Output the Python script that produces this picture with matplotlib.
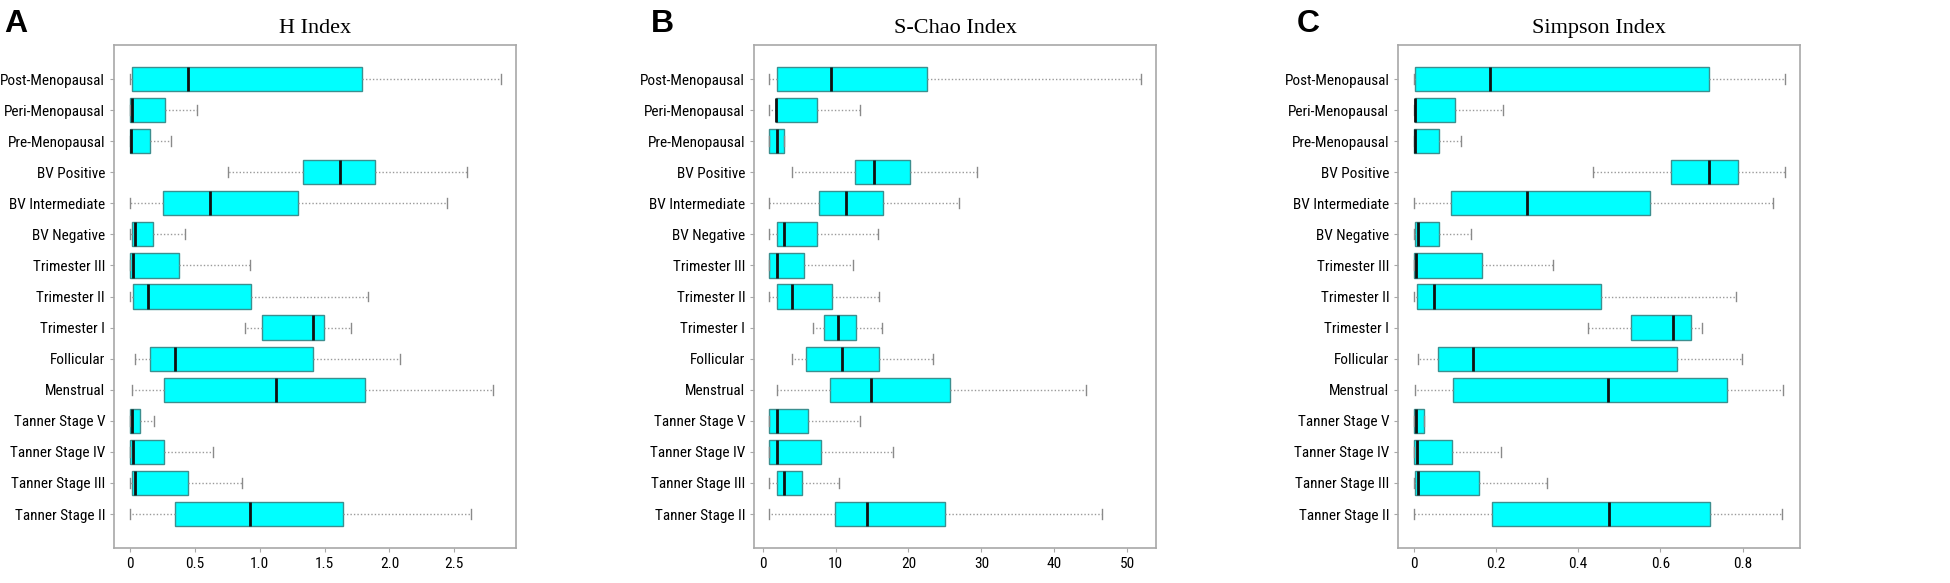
import matplotlib.pyplot as plt

groups = ['Post-Menopausal', 'Peri-Menopausal', 'Pre-Menopausal', 'BV Positive',
          'BV Intermediate', 'BV Negative', 'Trimester III', 'Trimester II',
          'Trimester I', 'Follicular', 'Menstrual', 'Tanner Stage V',
          'Tanner Stage IV', 'Tanner Stage III', 'Tanner Stage II']

# H index: whisker low, q1, median, q3, whisker high (top to bottom)
h_low = [0, 0, 0, 0.755, 0, 0, 0, 0, 0.885, 0.038, 0.013, 0, 0, 0, 0]
h_q1 = [0.018, 0, 0, 1.33, 0.258, 0.013, 0, 0.026, 1.02, 0.155, 0.265, 0, 0, 0.013, 0.35]
h_med = [0.446, 0.013, 0.01, 1.617, 0.615, 0.036, 0.026, 0.14, 1.408, 0.35, 1.122, 0.018, 0.026, 0.036, 0.928]
h_q3 = [1.785, 0.273, 0.153, 1.89, 1.298, 0.181, 0.375, 0.936, 1.497, 1.408, 1.808, 0.079, 0.265, 0.449, 1.64]
h_high = [2.86, 0.518, 0.316, 2.6, 2.446, 0.423, 0.923, 1.831, 1.704, 2.08, 2.8, 0.186, 0.638, 0.86, 2.63]

# S-Chao index
s_low = [0.92, 0.92, 0.92, 3.96, 0.92, 0.92, 0.92, 0.92, 6.9, 3.96, 1.94, 0.92, 0.92, 0.92, 0.92]
s_q1 = [1.94, 1.9, 0.92, 12.6, 7.7, 1.94, 0.92, 1.94, 8.43, 5.94, 9.17, 0.92, 0.92, 1.94, 9.95]
s_med = [9.35, 1.9, 1.94, 15.25, 11.4, 2.95, 1.94, 3.96, 10.3, 10.9, 14.9, 1.94, 1.94, 2.95, 14.3]
s_q3 = [22.5, 7.47, 2.95, 20.2, 16.45, 7.47, 5.7, 9.45, 12.8, 15.9, 25.7, 6.27, 7.97, 5.44, 25.0]
s_high = [51.9, 13.3, 2.95, 29.4, 27.0, 15.8, 12.4, 15.9, 16.4, 23.4, 44.4, 13.4, 17.9, 10.46, 46.5]

# Simpson index
p_low = [0, 0, 0, 0.435, 0, 0, 0, 0, 0.424, 0.011, 0.0025, 0, 0, 0, 0]
p_q1 = [0.004, 0.0025, 0.001, 0.625, 0.0915, 0.003, 0, 0.007, 0.528, 0.058, 0.0956, 0, 0, 0.003, 0.19]
p_med = [0.185, 0.0025, 0.002, 0.717, 0.275, 0.011, 0.0065, 0.05, 0.63, 0.143, 0.473, 0.005, 0.007, 0.011, 0.476]
p_q3 = [0.717, 0.1, 0.062, 0.789, 0.574, 0.062, 0.165, 0.455, 0.675, 0.641, 0.762, 0.024, 0.092, 0.159, 0.72]
p_high = [0.904, 0.217, 0.115, 0.903, 0.874, 0.138, 0.339, 0.784, 0.701, 0.798, 0.897, 0.024, 0.212, 0.325, 0.895]

panels = [
    ('A', 'H Index', (h_low, h_q1, h_med, h_q3, h_high), (-0.122, 2.976), [0, 0.5, 1.0, 1.5, 2.0, 2.5], ['0', '0.5', '1.0', '1.5', '2.0', '2.5']),
    ('B', 'S-Chao Index', (s_low, s_q1, s_med, s_q3, s_high), (-1.15, 54.0), [0, 10, 20, 30, 40, 50], ['0', '10', '20', '30', '40', '50']),
    ('C', 'Simpson Index', (p_low, p_q1, p_med, p_q3, p_high), (-0.0376, 0.9406), [0, 0.2, 0.4, 0.6, 0.8], ['0', '0.2', '0.4', '0.6', '0.8']),
]
lefts = [0.0585, 0.3868, 0.7171]
letter_x = [0.002, 0.334, 0.665]
label_font = ['Roboto Condensed', 'Lato']

fig = plt.figure(figsize=(19.5, 5.83), dpi=100)
frame_col = '#a8a8a8'
n = len(groups)
pos = list(range(n, 0, -1))

for k, (letter, title, vals, xlim, ticks, ticklabels) in enumerate(panels):
    ax = fig.add_axes([lefts[k], 0.06, 0.2062, 0.8628])
    low, q1, med, q3, high = vals
    stats = []
    for i in range(n):
        stats.append({'whislo': low[i], 'q1': q1[i], 'med': med[i], 'q3': q3[i],
                      'whishi': high[i], 'label': groups[i]})
    ax.bxp(stats, positions=pos, vert=False, widths=0.78, patch_artist=True,
           showfliers=False, capwidths=0.32,
           boxprops=dict(facecolor='#00ffff', edgecolor='#3c8f8f', linewidth=1.0),
           medianprops=dict(color='#111111', linewidth=2.0),
           whiskerprops=dict(color='#9a9a9a', linestyle=(0, (1, 1.5)), linewidth=1.0),
           capprops=dict(color='#8a8a8a', linewidth=1.0))
    ax.set_xlim(*xlim)
    ax.set_ylim(-0.094, n + 1.094)
    ax.set_yticks(pos)
    ax.set_yticklabels(groups, family=label_font, fontstretch='condensed', fontsize=11)
    ax.set_xticks(ticks)
    ax.set_xticklabels(ticklabels, family=label_font, fontstretch='condensed', fontsize=11)
    ax.tick_params(axis='both', colors=frame_col, labelcolor='black', length=3, width=0.8)
    for sp in ax.spines.values():
        sp.set_color(frame_col)
        sp.set_linewidth(1.2)
    ax.set_title(title, family='Liberation Serif', fontsize=16, pad=9)
    fig.text(letter_x[k], 0.985, letter, fontsize=23, fontweight='bold',
             family='Liberation Sans', va='top', ha='left')

fig.savefig('out.png', dpi=100)
